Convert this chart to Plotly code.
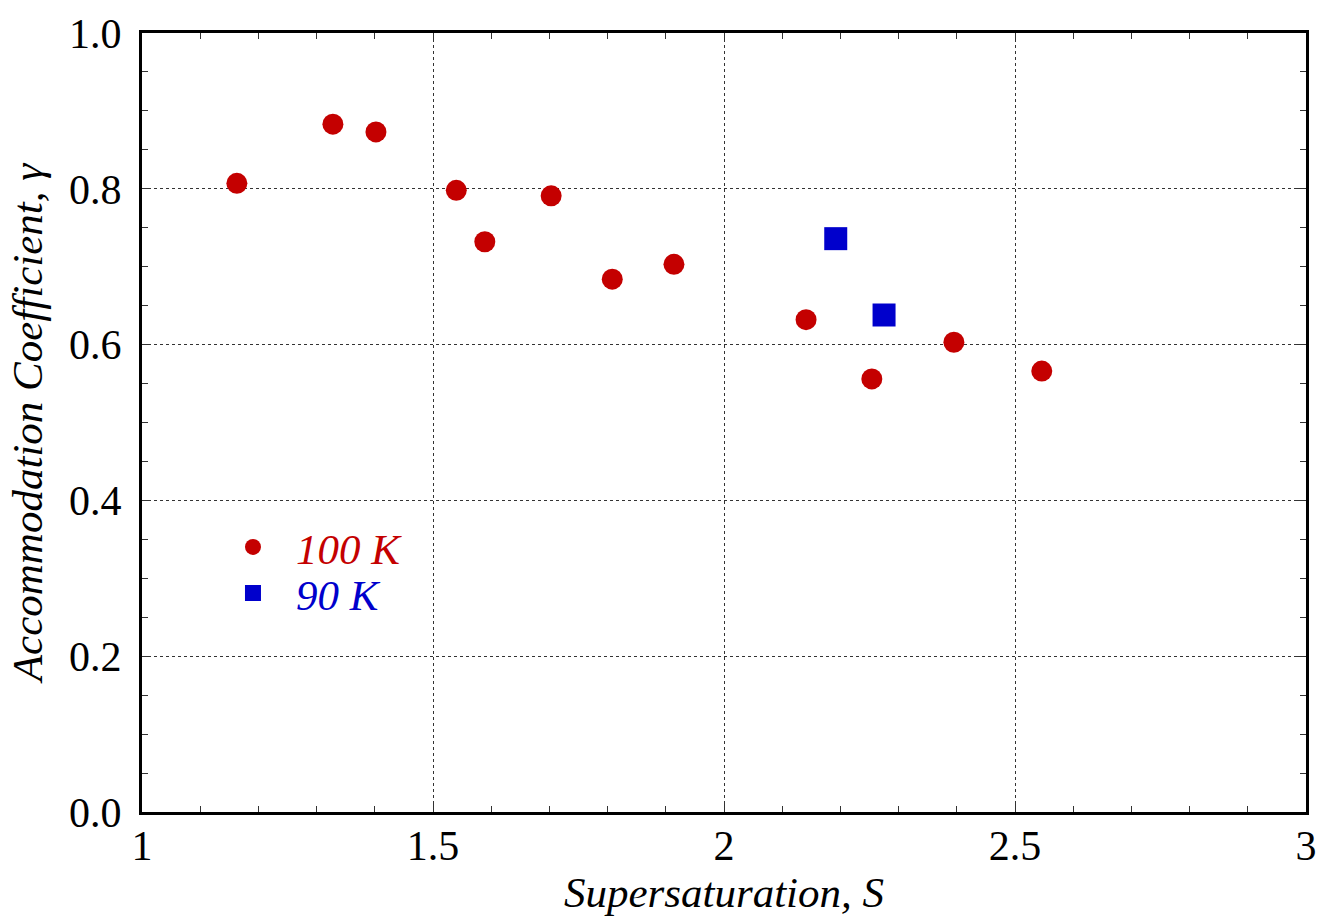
import plotly.graph_objects as go

s_100 = [1.163, 1.328, 1.402, 1.540, 1.589, 1.703, 1.808, 1.914, 2.141, 2.254, 2.395, 2.546]
g_100 = [0.807, 0.883, 0.873, 0.798, 0.732, 0.791, 0.684, 0.703, 0.632, 0.556, 0.603, 0.566]
s_90 = [2.192, 2.275]
g_90 = [0.736, 0.638]

RED = "#C40000"
BLUE = "#0000CC"
FONT = "Liberation Serif"

fig = go.Figure()
fig.add_trace(go.Scatter(x=s_100, y=g_100, mode="markers",
                         marker=dict(symbol="circle", size=21, color=RED),
                         name=f"<span style='color:{RED}'><i>100 K</i></span>",
                         legend="legend"))
fig.add_trace(go.Scatter(x=s_90, y=g_90, mode="markers",
                         marker=dict(symbol="square", size=23, color=BLUE),
                         name=f"<span style='color:{BLUE}'><i>90 K</i></span>",
                         legend="legend2"))

axis_common = dict(
    showline=True, linecolor="black", linewidth=3, mirror="allticks",
    ticks="inside", ticklen=9, tickwidth=1.2, tickcolor="#333",
    showgrid=True, gridcolor="#333", griddash="dot", gridwidth=1,
    zeroline=False, automargin=False,
    tickfont=dict(family=FONT, size=42, color="black"),
)

fig.update_xaxes(range=[1, 3], tickvals=[1, 1.5, 2, 2.5, 3],
                 ticktext=["1", "1.5", "2", "2.5", "3"],
                 minor=dict(ticks="inside", dtick=0.1, ticklen=6, tickcolor="#333", showgrid=False),
                 ticklabelstandoff=-5,
                 title=dict(text="<i>Supersaturation, S</i>", font=dict(family=FONT, size=43, color="black"), standoff=6),
                 **axis_common)
fig.update_yaxes(range=[0, 1], tickvals=[0, 0.2, 0.4, 0.6, 0.8, 1.0],
                 ticktext=["0.0", "0.2", "0.4", "0.6", "0.8", "1.0"],
                 minor=dict(ticks="inside", dtick=0.05, ticklen=6, tickcolor="#333", showgrid=False),
                 ticklabelstandoff=9,
                 title=dict(text="<i>Accommodation Coefficient, γ</i>", font=dict(family=FONT, size=43, color="black"), standoff=14),
                 **axis_common)

leg = dict(xanchor="left", yanchor="middle", bgcolor="rgba(0,0,0,0)",
           font=dict(family=FONT, size=43), itemsizing="trace", itemwidth=76)

fig.update_layout(
    width=1321, height=916,
    margin=dict(l=142, r=15, t=33, b=104),
    plot_bgcolor="white", paper_bgcolor="white",
    showlegend=True,
    font=dict(family=FONT),
    legend=dict(x=0.0584, y=0.3402, **leg),
    legend2=dict(x=0.0584, y=0.2812, **leg),
)

fig.write_html("out.html")
